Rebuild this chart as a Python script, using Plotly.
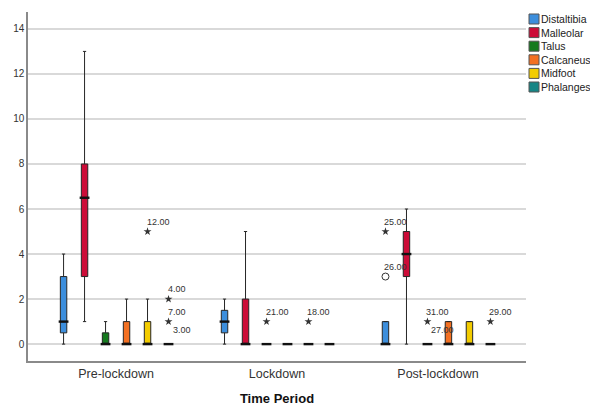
import plotly.graph_objects as go

# ---------------- data ----------------
categories = ["Pre-lockdown", "Lockdown", "Post-lockdown"]
series = ["Distaltibia", "Malleolar", "Talus", "Calcaneus", "Midfoot", "Phalanges"]

# per series: values for [Pre-lockdown, Lockdown, Post-lockdown]
lower_whisker = {
    "Distaltibia": [0, 0, 0],
    "Malleolar":   [1, 0, 0],
    "Talus":       [0, 0, 0],
    "Calcaneus":   [0, 0, 0],
    "Midfoot":     [0, 0, 0],
    "Phalanges":   [0, 0, 0],
}
q1_vals = {
    "Distaltibia": [0.5, 0.5, 0],
    "Malleolar":   [3, 0, 3],
    "Talus":       [0, 0, 0],
    "Calcaneus":   [0, 0, 0],
    "Midfoot":     [0, 0, 0],
    "Phalanges":   [0, 0, 0],
}
median_vals = {
    "Distaltibia": [1, 1, 0],
    "Malleolar":   [6.5, 0, 4],
    "Talus":       [0, 0, 0],
    "Calcaneus":   [0, 0, 0],
    "Midfoot":     [0, 0, 0],
    "Phalanges":   [0, 0, 0],
}
q3_vals = {
    "Distaltibia": [3, 1.5, 1],
    "Malleolar":   [8, 2, 5],
    "Talus":       [0.5, 0, 0],
    "Calcaneus":   [1, 0, 1],
    "Midfoot":     [1, 0, 1],
    "Phalanges":   [0, 0, 0],
}
upper_whisker = {
    "Distaltibia": [4, 2, 1],
    "Malleolar":   [13, 5, 6],
    "Talus":       [1, 0, 0],
    "Calcaneus":   [2, 0, 1],
    "Midfoot":     [2, 0, 1],
    "Phalanges":   [0, 0, 0],
}

# outliers: series, period, value, case label, kind
outlier_series = ["Midfoot", "Phalanges", "Phalanges", "Phalanges", "Talus", "Midfoot",
                  "Distaltibia", "Distaltibia", "Talus", "Talus", "Phalanges"]
outlier_period = ["Pre-lockdown", "Pre-lockdown", "Pre-lockdown", "Pre-lockdown",
                  "Lockdown", "Lockdown",
                  "Post-lockdown", "Post-lockdown", "Post-lockdown", "Post-lockdown", "Post-lockdown"]
outlier_value = [5, 2, 1, 1, 1, 1, 5, 3, 1, 1, 1]
outlier_label = ["12.00", "4.00", "7.00", "3.00", "21.00", "18.00",
                 "25.00", "26.00", "31.00", "27.00", "29.00"]
outlier_kind = ["extreme", "extreme", "extreme", "extreme", "extreme", "extreme",
                "extreme", "mild", "extreme", "extreme", "extreme"]

y_ticks = [0, 2, 4, 6, 8, 10, 12, 14]

# ---------------- style ----------------
colors = {
    "Distaltibia": "#3C8EDC",
    "Malleolar":   "#CC0C38",
    "Talus":       "#157A1E",
    "Calcaneus":   "#F37022",
    "Midfoot":     "#F3CC00",
    "Phalanges":   "#168585",
}
SLOT = 0.1304      # spacing between series within a period (category units)
BOX_W = 0.04       # box width (category units)
FONT = "Liberation Sans, Arial, sans-serif"


def xpos(period_idx, series_idx):
    return period_idx + (series_idx - (len(series) - 1) / 2) * SLOT


fig = go.Figure()

for j, s in enumerate(series):
    xs = [xpos(i, j) for i in range(len(categories))]
    fig.add_trace(go.Box(
        x=xs, q1=q1_vals[s], median=median_vals[s], q3=q3_vals[s],
        lowerfence=lower_whisker[s], upperfence=upper_whisker[s],
        orientation="v", width=BOX_W, whiskerwidth=0.5,
        fillcolor=colors[s], line=dict(color="#262626", width=1),
        boxpoints=False, name=s, showlegend=False, hoverinfo="skip",
    ))
    # thick median bar
    fig.add_trace(go.Scatter(
        x=xs, y=median_vals[s], mode="markers",
        marker=dict(symbol="line-ew", size=7, line=dict(color="#111", width=2.4)),
        showlegend=False, hoverinfo="skip",
    ))

# outliers
seen = {}
annotations = []
for s, p, v, lab, kind in zip(outlier_series, outlier_period, outlier_value,
                              outlier_label, outlier_kind):
    i = categories.index(p)
    j = series.index(s)
    x = xpos(i, j)
    key = (s, p, v)
    dup = seen.get(key, 0)
    seen[key] = dup + 1
    if dup == 0:
        fig.add_trace(go.Scatter(
            x=[x], y=[v], mode="markers",
            marker=dict(symbol="star" if kind == "extreme" else "circle-open",
                        size=6 if kind == "extreme" else 7,
                        color="#333333",
                        line=dict(color="#333333", width=1 if kind == "mild" else 0)),
            showlegend=False, hoverinfo="skip",
        ))
    annotations.append(dict(
        x=x, y=v, xref="x", yref="y", text=lab, showarrow=False,
        xanchor="left", yanchor="middle",
        xshift=-3 if dup == 0 else 2, yshift=10 if dup == 0 else -8,
        font=dict(family=FONT, size=9, color="#333333"),
    ))

# manual legend (square swatches)
shapes = []
for j, s in enumerate(series):
    yc = -7 - j * 13.6
    shapes.append(dict(
        type="rect", xref="paper", yref="paper",
        xsizemode="pixel", ysizemode="pixel", xanchor=1, yanchor=1,
        x0=3, x1=13, y0=yc - 5, y1=yc + 5,
        fillcolor=colors[s], line=dict(color="#555555", width=1),
    ))
    annotations.append(dict(
        x=1, y=1, xref="paper", yref="paper", xshift=13, yshift=yc,
        text=s, showarrow=False, xanchor="left", yanchor="middle",
        font=dict(family=FONT, size=10.5, color="#222222"),
    ))

fig.update_layout(
    width=590, height=406,
    margin=dict(l=28, r=64, t=12, b=45, autoexpand=False),
    paper_bgcolor="white", plot_bgcolor="white",
    font=dict(family=FONT, color="#333333"),
    showlegend=False,
    shapes=shapes, annotations=annotations,
    xaxis=dict(
        range=[-0.547, 2.547], tickvals=list(range(len(categories))), ticktext=categories,
        showgrid=False, zeroline=False, showline=True, linecolor="#8a8a8a", linewidth=1.5,
        ticks="", automargin=False,
        tickfont=dict(family=FONT, size=12.5, color="#333333"),
        title=dict(text="<b>Time Period</b>", standoff=14,
                   font=dict(family=FONT, size=13, color="#111111")),
    ),
    yaxis=dict(
        range=[-0.75, 14.75], tickvals=y_ticks, automargin=False,
        showgrid=True, gridcolor="#d9d9d9", gridwidth=1.5,
        zeroline=False, showline=True, linecolor="#8a8a8a", linewidth=1.5,
        ticks="", tickfont=dict(family=FONT, size=10, color="#333333"),
    ),
)

fig.write_html("out.html", config={"displayModeBar": False},
               post_script="document.body.style.margin='0px';")
